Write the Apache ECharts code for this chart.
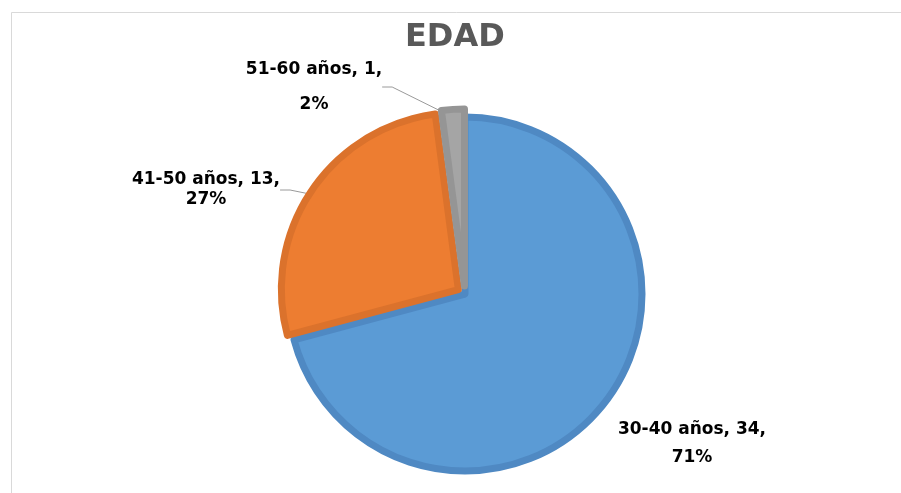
<!DOCTYPE html>
<html>
<head>
<meta charset="utf-8">
<script src="https://cdn.jsdelivr.net/npm/echarts@6/dist/echarts.min.js"></script>
<style>
  html, body { margin: 0; padding: 0; background: #fff; }
  #edad { width: 901px; height: 493px; }
</style>
</head>
<body>
<div id="edad"></div>
<script>
var categories = ['30-40 años', '41-50 años', '51-60 años'];
var counts = [34, 13, 1];
var fills = ['#5b9bd5', '#ed7d31', '#a5a5a5'];
var borders = ['#4f89c3', '#db722c', '#959595'];
var exploded = [false, true, true];
// label centre and line spacing
var labelSpots = [[692, 444, 28], [206, 190, 20], [314, 87, 35]];

var myChart = echarts.init(document.getElementById('edad'));

// visible slices (orange and grey pulled out)
var sliceData = categories.map(function (name, i) {
  return {
    name: name,
    value: counts[i],
    selected: exploded[i],
    itemStyle: { color: fills[i], borderColor: borders[i], borderWidth: 7 }
  };
});

// same slices again, invisible, only to carry the labels
// (labelLayout x/y gets lost on selected items)
var labelData = categories.map(function (name, i) {
  return {
    name: name,
    value: counts[i],
    label: { lineHeight: labelSpots[i][2] },
    labelLine: { show: i !== 0 }
  };
});

var option = {
  backgroundColor: '#fff',
  animation: false,
  graphic: [{
    type: 'rect',
    shape: { x: 11.5, y: 12.5, width: 950, height: 550 },
    style: { fill: null, stroke: '#d9d9d9', lineWidth: 1 },
    silent: true
  }],
  title: {
    text: 'EDAD',
    left: 405,
    top: 22,
    padding: 0,
    textStyle: {
      fontFamily: 'DejaVu Sans',
      fontWeight: 'bold',
      fontSize: 32,
      color: '#595959'
    }
  },
  series: [
    {
      name: 'labels',
      type: 'pie',
      z: 1,
      center: [465, 294],
      radius: 177,
      startAngle: 90,
      silent: true,
      percentPrecision: 0,
      itemStyle: { color: 'rgba(0,0,0,0)', borderWidth: 0 },
      label: {
        show: true,
        position: 'outside',
        formatter: '{b}, {c},\n{d}%',
        fontFamily: 'DejaVu Sans',
        fontWeight: 'bold',
        fontSize: 17,
        color: '#000',
        align: 'center'
      },
      labelLine: {
        length: 10,
        length2: 10,
        lineStyle: { color: '#9a9a9a', width: 1 }
      },
      labelLayout: function (params) {
        var s = labelSpots[params.dataIndex];
        return { x: s[0], y: s[1], align: 'center', verticalAlign: 'middle' };
      },
      data: labelData
    },
    {
      name: 'EDAD',
      type: 'pie',
      z: 2,
      center: [465, 294],
      radius: 177,
      startAngle: 90,
      selectedMode: 'multiple',
      selectedOffset: 8,
      emphasis: { disabled: true },
      label: { show: false },
      labelLine: { show: false },
      data: sliceData
    }
  ]
};

myChart.setOption(option);
</script>
</body>
</html>
